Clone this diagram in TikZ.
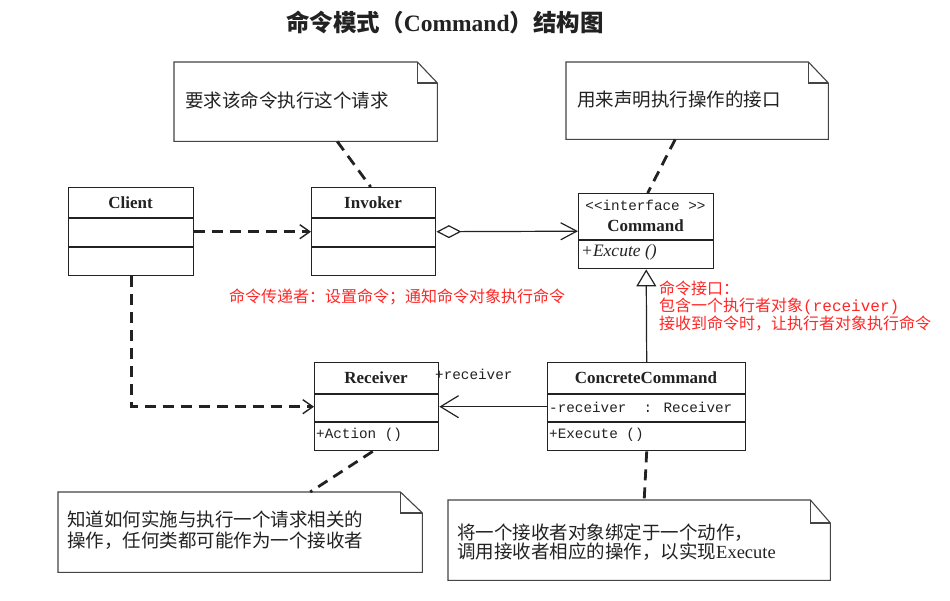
\documentclass[tikz,border=0pt]{standalone}
\usepackage{fontspec}
\usetikzlibrary{arrows.meta}
\setmainfont{Liberation Serif}
\newfontfamily\cjk{Noto Sans CJK SC}
\newfontfamily\monof{Liberation Mono}
\newcommand\fsz[2]{\fontsize{#1}{#2}\selectfont}
\definecolor{ink}{HTML}{222222}
\definecolor{noteink}{HTML}{444444}
\definecolor{redtxt}{HTML}{FF2626}

\begin{document}
\begin{tikzpicture}[x=1pt,y=-1pt,
  umlbox/.style={draw=ink, line width=1.4pt, anchor=north west, inner sep=0pt},
  divider/.style={draw=ink, line width=1.4pt},
  notebody/.style={inner sep=0pt, anchor=north west},
  noteline/.style={draw=noteink, line width=1.1pt},
  dep/.style={draw=ink, line width=2.8pt, dash pattern=on 11pt off 7pt},
  assoc/.style={draw=ink, line width=1.2pt},
  clsname/.style={font=\bfseries\fsz{17pt}{20pt}, text=ink, inner sep=0pt},
  member/.style={font=\monof\fsz{14.3pt}{16pt}, text=ink, inner sep=0pt, anchor=west},
  notetext/.style={font=\cjk\fsz{18.5pt}{21pt}, text=ink, inner sep=0pt, anchor=west, align=left},
  redtext/.style={font=\cjk\fsz{16pt}{16.5pt}, text=redtxt, inner sep=0pt, align=left}
]
\fill[white] (0,0) rectangle (950,601);
\useasboundingbox (0,0) rectangle (950,601);

% title
\node[font=\cjk\bfseries\fsz{23.5pt}{26pt}, text=ink, inner sep=0pt] (title) at (445,22)
  {命令模式（{\rmfamily\bfseries Command}）结构图};

% ---- notes ----
\node[notebody, minimum width=263pt, minimum height=79pt] (n1) at (174,62) {};
\draw[noteline] (n1.north west) -- ([xshift=-20pt]n1.north east) -- ([yshift=-21pt]n1.north east)
  -- (n1.south east) -- (n1.south west) -- cycle;
\draw[noteline] ([xshift=-20pt]n1.north east) |- ([yshift=-21pt]n1.north east);
\node[notetext] (t1) at (185,100) {要求该命令执行这个请求};

\node[notebody, minimum width=262pt, minimum height=77pt] (n2) at (566,62) {};
\draw[noteline] (n2.north west) -- ([xshift=-20pt]n2.north east) -- ([yshift=-21pt]n2.north east)
  -- (n2.south east) -- (n2.south west) -- cycle;
\draw[noteline] ([xshift=-20pt]n2.north east) |- ([yshift=-21pt]n2.north east);
\node[notetext] (t2) at (577,100) {用来声明执行操作的接口};

\node[notebody, minimum width=364pt, minimum height=80pt] (n3) at (58,492) {};
\draw[noteline] (n3.north west) -- ([xshift=-22pt]n3.north east) -- ([yshift=-21pt]n3.north east)
  -- (n3.south east) -- (n3.south west) -- cycle;
\draw[noteline] ([xshift=-22pt]n3.north east) |- ([yshift=-21pt]n3.north east);
\node[notetext] (t3) at (67,530) {知道如何实施与执行一个请求相关的\\操作，任何类都可能作为一个接收者};

\node[notebody, minimum width=382pt, minimum height=80pt] (n4) at (448,500) {};
\draw[noteline] (n4.north west) -- ([xshift=-20pt]n4.north east) -- ([yshift=-23pt]n4.north east)
  -- (n4.south east) -- (n4.south west) -- cycle;
\draw[noteline] ([xshift=-20pt]n4.north east) |- ([yshift=-23pt]n4.north east);
\node[notetext, font=\cjk\fsz{18.5pt}{19.5pt}] (t4) at (457,542)
  {将一个接收者对象绑定于一个动作，\\调用接收者相应的操作，以实现{\rmfamily Execute}};

% ---- classes ----
\node[umlbox, minimum width=125pt, minimum height=88pt] (client) at (68,187) {};
\draw[divider] ([yshift=-31pt]client.north west) -- ([yshift=-31pt]client.north east);
\draw[divider] ([yshift=-60pt]client.north west) -- ([yshift=-60pt]client.north east);
\node[clsname] (clientname) at (130.5,202.5) {Client};

\node[umlbox, minimum width=124pt, minimum height=88pt] (invoker) at (311,187) {};
\draw[divider] ([yshift=-31pt]invoker.north west) -- ([yshift=-31pt]invoker.north east);
\draw[divider] ([yshift=-60pt]invoker.north west) -- ([yshift=-60pt]invoker.north east);
\node[clsname] (invokername) at (373,202.5) {Invoker};

\node[umlbox, minimum width=135pt, minimum height=75pt] (command) at (578,193) {};
\draw[divider] ([yshift=-47pt]command.north west) -- ([yshift=-47pt]command.north east);
\node[member, anchor=center] (stereo) at (645.5,205) {<{}<interface >{}>};
\node[clsname] (commandname) at (645.5,226) {Command};
\node[font=\itshape\fsz{17.5pt}{19pt}, text=ink, inner sep=0pt, anchor=west] (excute) at (581,252) {+Excute ()};

\node[umlbox, minimum width=124pt, minimum height=88pt] (receiver) at (314,362) {};
\draw[divider] ([yshift=-32pt]receiver.north west) -- ([yshift=-32pt]receiver.north east);
\draw[divider] ([yshift=-60pt]receiver.north west) -- ([yshift=-60pt]receiver.north east);
\node[clsname] (receivername) at (376,378) {Receiver};
\node[member] (action) at (316,435) {+Action ()};

\node[umlbox, minimum width=198pt, minimum height=88pt] (cc) at (547,362) {};
\draw[divider] ([yshift=-32pt]cc.north west) -- ([yshift=-32pt]cc.north east);
\draw[divider] ([yshift=-60pt]cc.north west) -- ([yshift=-60pt]cc.north east);
\node[clsname] (ccname) at (646,378) {ConcreteCommand};
\node[member] (ccattr) at (549,407) {-receiver\ \ : Receiver};
\node[member] (ccop) at (549,435) {+Execute ()};

% ---- connectors ----
\draw[dep] ([xshift=31.5pt]n1.south) -- ([xshift=-3pt]invoker.north);
\draw[dep] ([xshift=-22pt]n2.south) -- ([xshift=1.5pt]command.north);
\draw[dep] ([xshift=-4pt]receiver.south) -- ([xshift=70pt]n3.north);
\draw[dep] (cc.south) -- ([xshift=5pt]n4.north);

\draw[dep, -{Straight Barb[length=10pt, width=14pt, line width=1.4pt]}] (client.east) -- (invoker.west);
\draw[dep, -{Straight Barb[length=10pt, width=14pt, line width=1.4pt]}] (client.south) |- (receiver.west);

\draw[assoc, {Diamond[open, length=25pt, width=13pt]}-{Straight Barb[length=16pt, width=17pt]}]
  (invoker.east) -- (command.west);
\draw[assoc, -{Triangle[open, length=17pt, width=20pt]}] (cc.north) -- (command.south);
\draw[assoc, -{Straight Barb[length=18pt, width=22pt]}] (cc.west) -- (receiver.east);
\node[member] (rolename) at (435,374) {+receiver};

% ---- red annotations ----
\node[redtext, anchor=west] (invnote) at (229,297) {命令传递者：设置命令；通知命令对象执行命令};
\node[redtext, anchor=north west] (cmdnote) at (659,281)
  {命令接口：\\包含一个执行者对象{\monof (receiver)}\\接收到命令时，让执行者对象执行命令};
\end{tikzpicture}
\end{document}
